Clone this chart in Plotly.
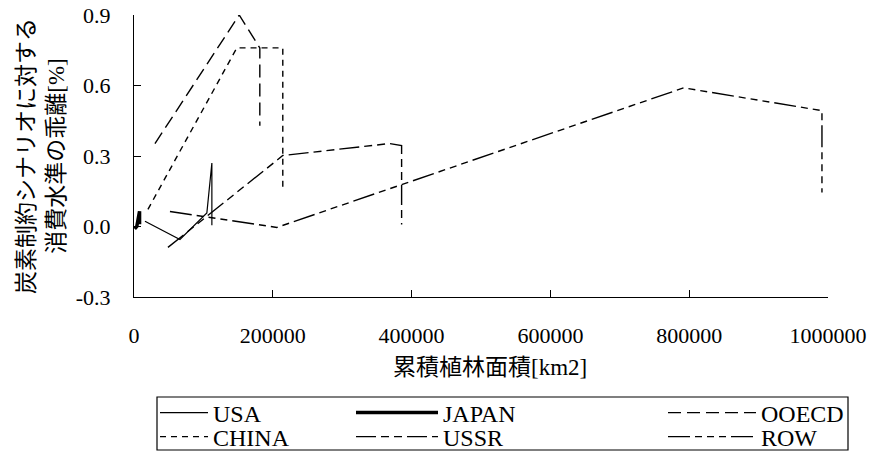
import plotly.graph_objects as go

# Cumulative afforested area [km2] vs. deviation of consumption level [%]
usa_x = [15800, 66200, 105000, 112200, 112200]
usa_y = [0.022, -0.055, 0.058, 0.27, 0.005]

japan_x = [1000, 4000, 8000, 8000]
japan_y = [-0.01, 0.0, 0.065, 0.01]

ooecd_x = [30200, 151600, 181300, 181300]
ooecd_y = [0.353, 0.9, 0.76, 0.429]

china_x = [20100, 148200, 214400, 214400]
china_y = [0.073, 0.76, 0.76, 0.166]

ussr_x = [48900, 214400, 368000, 385600, 385600]
ussr_y = [-0.089, 0.302, 0.353, 0.344, 0.009]

row_x = [51800, 205800, 792000, 991300, 991300]
row_y = [0.064, -0.004, 0.59, 0.493, 0.145]

x_ticks = [0, 200000, 400000, 600000, 800000, 1000000]
y_ticks = [-0.3, 0.0, 0.3, 0.6, 0.9]

W, H = 879, 451
SERIF = "Liberation Serif"
JP = "Liberation Serif, Noto Sans CJK JP"

series = [
    # name, x, y, width, dash, legend id, legend symbol width, text x(px), row y(px)
    ("USA", usa_x, usa_y, 1.2, "solid", "legend", 48, 213, 413),
    ("JAPAN", japan_x, japan_y, 3.5, "solid", "legend2", 82, 443, 413),
    ("OOECD", ooecd_x, ooecd_y, 1.4, "13px,6px", "legend3", 88, 761, 413),
    ("CHINA", china_x, china_y, 1.4, "6px,5px", "legend4", 48, 213, 437),
    ("USSR", ussr_x, ussr_y, 1.4, "20px,5px,8px,5px,8px,5px", "legend5", 82, 443, 437),
    ("ROW", row_x, row_y, 1.4, "22px,5px,7px,5px,7px,5px,7px,5px", "legend6", 88, 761, 437),
]

fig = go.Figure()
legend_layout = {}
for name, xs, ys, lw, dash, lg, iw, tx, ty in series:
    fig.add_trace(go.Scatter(
        x=xs, y=ys, mode="lines", name=name, legend=lg,
        line=dict(color="black", width=lw, dash=dash),
    ))
    legend_layout[lg] = dict(
        xref="container", yref="container",
        x=(tx - iw - 10) / W, y=1 - ty / H,
        xanchor="left", yanchor="middle",
        itemwidth=iw, bgcolor="rgba(0,0,0,0)", borderwidth=0,
        font=dict(family=SERIF, size=24, color="black"),
    )

# frame around the legend block
px0, px1, py_top, py_bot = 157, 848, 397, 450
L, R, T, B = 134, 828, 15, 297
fig.add_shape(
    type="rect", xref="paper", yref="paper",
    x0=(px0 - L) / (R - L), x1=(px1 - L) / (R - L),
    y0=(B - py_bot) / (B - T), y1=(B - py_top) / (B - T),
    line=dict(color="black", width=1.2), fillcolor="rgba(0,0,0,0)",
)

fig.add_annotation(
    text="炭素制約シナリオに対する<br>消費水準の乖離[%]",
    xref="paper", yref="paper", x=(41 - L) / (R - L), y=(B - 156) / (B - T),
    textangle=-90, showarrow=False, xanchor="center", yanchor="middle",
    font=dict(family=JP, size=23, color="black"),
)
fig.add_annotation(
    text="累積植林面積[km2]",
    xref="paper", yref="paper", x=(490 - L) / (R - L), y=(B - 367) / (B - T),
    showarrow=False, xanchor="center", yanchor="middle",
    font=dict(family=JP, size=23, color="black"),
)

fig.update_layout(
    width=W, height=H,
    margin=dict(l=L, r=W - R, t=T, b=H - B, autoexpand=False),
    paper_bgcolor="white", plot_bgcolor="white",
    showlegend=True,
    **legend_layout,
)
fig.update_xaxes(
    range=[0, 1000000], tickvals=x_ticks, ticktext=[str(v) for v in x_ticks],
    showgrid=False, zeroline=False, showline=True, linecolor="black", linewidth=1.2,
    ticks="inside", ticklen=7, tickcolor="black", tickwidth=1.2,
    ticklabelstandoff=18, tickangle=0,
    tickfont=dict(family=SERIF, size=22, color="black"),
)
fig.update_yaxes(
    range=[-0.3, 0.9], tickvals=y_ticks, ticktext=[f"{v:.1f}" for v in y_ticks],
    showgrid=False, zeroline=False, showline=True, linecolor="black", linewidth=1.2,
    ticks="inside", ticklen=7, tickcolor="black", tickwidth=1.2,
    ticklabelstandoff=18,
    tickfont=dict(family=SERIF, size=22, color="black"),
)

fig.write_html("out.html")
